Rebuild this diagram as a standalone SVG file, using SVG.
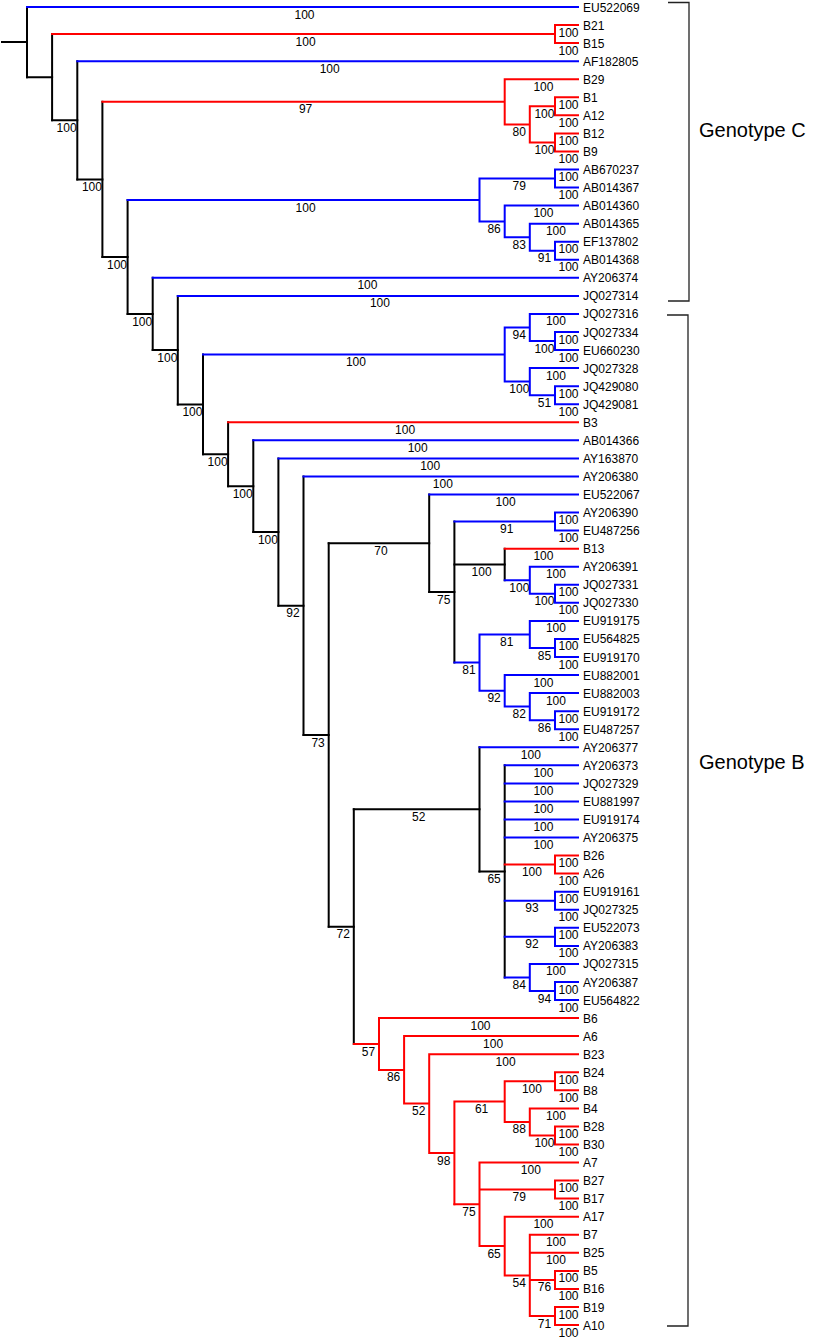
<svg xmlns="http://www.w3.org/2000/svg" width="814" height="1339" viewBox="0 0 814 1339">
<style>
.k{stroke:#000;stroke-width:2;fill:none;stroke-linecap:square}
.b{stroke:#0000ff;stroke-width:2;fill:none;stroke-linecap:square}
.r{stroke:#ff0000;stroke-width:2;fill:none;stroke-linecap:square}
text{font-family:"Liberation Sans",Arial,sans-serif;font-size:12px;fill:#000}
.s text{text-anchor:middle}
.br{stroke:#222;stroke-width:1.3;fill:none}
.gt{font-size:20px}
</style>
<rect width="814" height="1339" fill="#fff"/>
<g id="connectors">
<path class="k" d="M2 42.1H27M27 7V77.2M52.1 34.1V120.3M77.3 61.2V179.4M102.4 101.8V257M127.6 200V314M152.7 277.8V350.1M177.8 295.9V404.4M203 354.6V454.2M228.1 422.3V486.2M253.3 440.3V532M278.4 458.4V605.7M303.5 476.4V735M328.7 543.3V926.7M429.2 494.5V592.1M454.4 521.6V662.6M504.7 548.7V580.3M353.8 809.3V1044M479.5 747.3V871.4M504.7 765.3V977.5"/>
<path class="k" d="M27 77.2H52.1M52.1 120.3H77.3M77.3 179.4H102.4M102.4 257H127.6M127.6 314H152.7M152.7 350.1H177.8M177.8 404.4H203M203 454.2H228.1M228.1 486.2H253.3M253.3 532H278.4M278.4 605.7H303.5M303.5 735H328.7M328.7 543.3H429.2M328.7 926.7H353.8M429.2 592.1H454.4M454.4 564.5H504.7M353.8 809.3H479.5M479.5 871.4H504.7"/>
<path class="b" d="M27 7H578M77.3 61.2H578M127.6 200H479.5M479.5 178.5V221.4M479.5 178.5H555M555 169.5V187.6M555 169.5H578M555 187.6H578M479.5 221.4H504.7M504.7 205.6V237.2M504.7 205.6H578M504.7 237.2H529.8M529.8 223.7V250.7M529.8 223.7H578M529.8 250.7H555M555 241.7V259.8M555 241.7H578M555 259.8H578"/>
<path class="b" d="M152.7 277.8H578M177.8 295.9H578M203 354.6H504.7M504.7 327.5V381.6M504.7 327.5H529.8M529.8 313.9V341M529.8 313.9H578M529.8 341H555M555 332V350.1M555 332H578M555 350.1H578M504.7 381.6H529.8M529.8 368.1V395.2M529.8 368.1H578M529.8 395.2H555M555 386.2V404.2M555 386.2H578M555 404.2H578"/>
<path class="b" d="M253.3 440.3H578M278.4 458.4H578M303.5 476.4H578M429.2 494.5H578M454.4 521.6H555M555 512.5V530.6M555 512.5H578M555 530.6H578M504.7 580.3H529.8M529.8 566.7V593.8M529.8 566.7H578M529.8 593.8H555M555 584.8V602.8M555 584.8H578M555 602.8H578"/>
<path class="b" d="M454.4 662.6H479.5M479.5 634.4V690.8M479.5 634.4H529.8M529.8 620.9V648M529.8 620.9H578M529.8 648H555M555 638.9V657M555 638.9H578M555 657H578M479.5 690.8H504.7M504.7 675V706.6M504.7 675H578M504.7 706.6H529.8M529.8 693.1V720.2M529.8 693.1H578M529.8 720.2H555M555 711.2V729.2M555 711.2H578M555 729.2H578"/>
<path class="b" d="M479.5 747.3H578M504.7 765.3H578M504.7 783.4H578M504.7 801.4H578M504.7 819.5H578M504.7 837.5H578M504.7 900.7H555M555 891.7V909.8M555 891.7H578M555 909.8H578M504.7 936.8H555M555 927.8V945.9M555 927.8H578M555 945.9H578M504.7 977.5H529.8M529.8 963.9V991M529.8 963.9H578M529.8 991H555M555 982V1000M555 982H578M555 1000H578"/>
<path class="r" d="M52.1 34.1H555M555 25.1V43.1M555 25.1H578M555 43.1H578M102.4 101.8H504.7M504.7 79.2V124.4M504.7 79.2H578M504.7 124.4H529.8M529.8 106.3V142.4M529.8 106.3H555M555 97.3V115.3M555 97.3H578M555 115.3H578M529.8 142.4H555M555 133.4V151.4M555 133.4H578M555 151.4H578M228.1 422.3H578M504.7 548.7H578M504.7 864.6H555M555 855.6V873.6M555 855.6H578M555 873.6H578"/>
<path class="r" d="M353.8 1044H379M379 1018.1V1069.9M379 1018.1H578M379 1069.9H404.1M404.1 1036.1V1103.6M404.1 1036.1H578M404.1 1103.6H429.2M429.2 1054.2V1153M429.2 1054.2H578M429.2 1153H454.4M454.4 1101.6V1204.3M454.4 1101.6H504.7M504.7 1081.3V1121.9M504.7 1081.3H555M555 1072.3V1090.3M555 1072.3H578M555 1090.3H578M504.7 1121.9H529.8M529.8 1108.4V1135.4M529.8 1108.4H578M529.8 1135.4H555M555 1126.4V1144.5M555 1126.4H578M555 1144.5H578"/>
<path class="r" d="M454.4 1204.3H479.5M479.5 1162.5V1246M479.5 1162.5H578M479.5 1189.6H555M555 1180.6V1198.6M555 1180.6H578M555 1198.6H578M479.5 1246H504.7M504.7 1216.7V1275.4M504.7 1216.7H578M504.7 1275.4H529.8M529.8 1234.7V1316M529.8 1234.7H578M529.8 1252.8H578M529.8 1279.9H555M555 1270.9V1288.9M555 1270.9H578M555 1288.9H578M529.8 1316H555M555 1307V1325M555 1307H578M555 1325H578"/>
</g>
<g id="support-values" class="s">
<text x="304.5" y="18.5">100</text>
<text x="305.6" y="45.6">100</text>
<text x="66.6" y="131.8">100</text>
<text x="568.5" y="36.6">100</text>
<text x="568.5" y="54.6">100</text>
<text x="329.7" y="72.7">100</text>
<text x="91.9" y="190.9">100</text>
<text x="305.6" y="113.3">97</text>
<text x="117" y="268.5">100</text>
<text x="543.4" y="90.7">100</text>
<text x="519.3" y="135.9">80</text>
<text x="544.4" y="117.8">100</text>
<text x="544.4" y="153.9">100</text>
<text x="568.5" y="108.8">100</text>
<text x="568.5" y="126.8">100</text>
<text x="568.5" y="144.9">100</text>
<text x="568.5" y="162.9">100</text>
<text x="305.6" y="211.5">100</text>
<text x="142.2" y="325.5">100</text>
<text x="519.3" y="190">79</text>
<text x="494.1" y="232.9">86</text>
<text x="568.5" y="181">100</text>
<text x="568.5" y="199.1">100</text>
<text x="543.4" y="217.1">100</text>
<text x="519.3" y="248.7">83</text>
<text x="555.9" y="235.2">100</text>
<text x="544.4" y="262.2">91</text>
<text x="568.5" y="253.2">100</text>
<text x="568.5" y="271.3">100</text>
<text x="367.4" y="289.3">100</text>
<text x="167.3" y="361.6">100</text>
<text x="379.9" y="307.4">100</text>
<text x="192.4" y="415.9">100</text>
<text x="355.9" y="366.1">100</text>
<text x="217.6" y="465.7">100</text>
<text x="519.3" y="339">94</text>
<text x="519.3" y="393.1">100</text>
<text x="555.9" y="325.4">100</text>
<text x="544.4" y="352.5">100</text>
<text x="568.5" y="343.5">100</text>
<text x="568.5" y="361.6">100</text>
<text x="555.9" y="379.6">100</text>
<text x="544.4" y="406.7">51</text>
<text x="568.5" y="397.7">100</text>
<text x="568.5" y="415.7">100</text>
<text x="405.1" y="433.8">100</text>
<text x="242.7" y="497.7">100</text>
<text x="417.7" y="451.8">100</text>
<text x="267.9" y="543.5">100</text>
<text x="430.2" y="469.9">100</text>
<text x="293" y="617.2">92</text>
<text x="442.8" y="487.9">100</text>
<text x="318.1" y="746.5">73</text>
<text x="381" y="554.8">70</text>
<text x="343.3" y="938.2">72</text>
<text x="505.6" y="506">100</text>
<text x="443.8" y="603.6">75</text>
<text x="506.7" y="533.1">91</text>
<text x="481.6" y="576">100</text>
<text x="469" y="674.1">81</text>
<text x="568.5" y="524">100</text>
<text x="568.5" y="542.1">100</text>
<text x="543.4" y="560.2">100</text>
<text x="519.3" y="591.8">100</text>
<text x="555.9" y="578.2">100</text>
<text x="544.4" y="605.3">100</text>
<text x="568.5" y="596.3">100</text>
<text x="568.5" y="614.3">100</text>
<text x="506.7" y="645.9">81</text>
<text x="494.1" y="702.3">92</text>
<text x="555.9" y="632.4">100</text>
<text x="544.4" y="659.5">85</text>
<text x="568.5" y="650.4">100</text>
<text x="568.5" y="668.5">100</text>
<text x="543.4" y="686.5">100</text>
<text x="519.3" y="718.1">82</text>
<text x="555.9" y="704.6">100</text>
<text x="544.4" y="731.7">86</text>
<text x="568.5" y="722.7">100</text>
<text x="568.5" y="740.7">100</text>
<text x="418.7" y="820.8">52</text>
<text x="368.4" y="1055.5">57</text>
<text x="530.8" y="758.8">100</text>
<text x="494.1" y="882.9">65</text>
<text x="543.4" y="776.8">100</text>
<text x="543.4" y="794.9">100</text>
<text x="543.4" y="812.9">100</text>
<text x="543.4" y="831">100</text>
<text x="543.4" y="849">100</text>
<text x="531.9" y="876.1">100</text>
<text x="531.9" y="912.2">93</text>
<text x="531.9" y="948.3">92</text>
<text x="519.3" y="989">84</text>
<text x="568.5" y="867.1">100</text>
<text x="568.5" y="885.1">100</text>
<text x="568.5" y="903.2">100</text>
<text x="568.5" y="921.3">100</text>
<text x="568.5" y="939.3">100</text>
<text x="568.5" y="957.4">100</text>
<text x="555.9" y="975.4">100</text>
<text x="544.4" y="1002.5">94</text>
<text x="568.5" y="993.5">100</text>
<text x="568.5" y="1011.5">100</text>
<text x="480.5" y="1029.6">100</text>
<text x="393.6" y="1081.4">86</text>
<text x="493.1" y="1047.6">100</text>
<text x="418.7" y="1115.1">52</text>
<text x="505.6" y="1065.7">100</text>
<text x="443.8" y="1164.5">98</text>
<text x="481.6" y="1113.1">61</text>
<text x="469" y="1215.8">75</text>
<text x="531.9" y="1092.8">100</text>
<text x="519.3" y="1133.4">88</text>
<text x="568.5" y="1083.8">100</text>
<text x="568.5" y="1101.8">100</text>
<text x="555.9" y="1119.9">100</text>
<text x="544.4" y="1146.9">100</text>
<text x="568.5" y="1137.9">100</text>
<text x="568.5" y="1156">100</text>
<text x="530.8" y="1174">100</text>
<text x="519.3" y="1201.1">79</text>
<text x="494.1" y="1257.5">65</text>
<text x="568.5" y="1192.1">100</text>
<text x="568.5" y="1210.1">100</text>
<text x="543.4" y="1228.2">100</text>
<text x="519.3" y="1286.9">54</text>
<text x="555.9" y="1246.2">100</text>
<text x="555.9" y="1264.3">100</text>
<text x="544.4" y="1291.4">76</text>
<text x="544.4" y="1327.5">71</text>
<text x="568.5" y="1282.4">100</text>
<text x="568.5" y="1300.4">100</text>
<text x="568.5" y="1318.5">100</text>
<text x="568.5" y="1336.5">100</text>
</g>
<g id="leaf-EU522069"><text x="583" y="11.5">EU522069</text></g>
<g id="leaf-B21"><text x="583" y="29.6">B21</text></g>
<g id="leaf-B15"><text x="583" y="47.6">B15</text></g>
<g id="leaf-AF182805"><text x="583" y="65.7">AF182805</text></g>
<g id="leaf-B29"><text x="583" y="83.7">B29</text></g>
<g id="leaf-B1"><text x="583" y="101.8">B1</text></g>
<g id="leaf-A12"><text x="583" y="119.8">A12</text></g>
<g id="leaf-B12"><text x="583" y="137.9">B12</text></g>
<g id="leaf-B9"><text x="583" y="155.9">B9</text></g>
<g id="leaf-AB670237"><text x="583" y="174">AB670237</text></g>
<g id="leaf-AB014367"><text x="583" y="192.1">AB014367</text></g>
<g id="leaf-AB014360"><text x="583" y="210.1">AB014360</text></g>
<g id="leaf-AB014365"><text x="583" y="228.2">AB014365</text></g>
<g id="leaf-EF137802"><text x="583" y="246.2">EF137802</text></g>
<g id="leaf-AB014368"><text x="583" y="264.3">AB014368</text></g>
<g id="leaf-AY206374"><text x="583" y="282.3">AY206374</text></g>
<g id="leaf-JQ027314"><text x="583" y="300.4">JQ027314</text></g>
<g id="leaf-JQ027316"><text x="583" y="318.4">JQ027316</text></g>
<g id="leaf-JQ027334"><text x="583" y="336.5">JQ027334</text></g>
<g id="leaf-EU660230"><text x="583" y="354.5">EU660230</text></g>
<g id="leaf-JQ027328"><text x="583" y="372.6">JQ027328</text></g>
<g id="leaf-JQ429080"><text x="583" y="390.7">JQ429080</text></g>
<g id="leaf-JQ429081"><text x="583" y="408.7">JQ429081</text></g>
<g id="leaf-B3"><text x="583" y="426.8">B3</text></g>
<g id="leaf-AB014366"><text x="583" y="444.8">AB014366</text></g>
<g id="leaf-AY163870"><text x="583" y="462.9">AY163870</text></g>
<g id="leaf-AY206380"><text x="583" y="480.9">AY206380</text></g>
<g id="leaf-EU522067"><text x="583" y="499">EU522067</text></g>
<g id="leaf-AY206390"><text x="583" y="517">AY206390</text></g>
<g id="leaf-EU487256"><text x="583" y="535.1">EU487256</text></g>
<g id="leaf-B13"><text x="583" y="553.2">B13</text></g>
<g id="leaf-AY206391"><text x="583" y="571.2">AY206391</text></g>
<g id="leaf-JQ027331"><text x="583" y="589.3">JQ027331</text></g>
<g id="leaf-JQ027330"><text x="583" y="607.3">JQ027330</text></g>
<g id="leaf-EU919175"><text x="583" y="625.4">EU919175</text></g>
<g id="leaf-EU564825"><text x="583" y="643.4">EU564825</text></g>
<g id="leaf-EU919170"><text x="583" y="661.5">EU919170</text></g>
<g id="leaf-EU882001"><text x="583" y="679.5">EU882001</text></g>
<g id="leaf-EU882003"><text x="583" y="697.6">EU882003</text></g>
<g id="leaf-EU919172"><text x="583" y="715.6">EU919172</text></g>
<g id="leaf-EU487257"><text x="583" y="733.7">EU487257</text></g>
<g id="leaf-AY206377"><text x="583" y="751.8">AY206377</text></g>
<g id="leaf-AY206373"><text x="583" y="769.8">AY206373</text></g>
<g id="leaf-JQ027329"><text x="583" y="787.9">JQ027329</text></g>
<g id="leaf-EU881997"><text x="583" y="805.9">EU881997</text></g>
<g id="leaf-EU919174"><text x="583" y="824">EU919174</text></g>
<g id="leaf-AY206375"><text x="583" y="842">AY206375</text></g>
<g id="leaf-B26"><text x="583" y="860.1">B26</text></g>
<g id="leaf-A26"><text x="583" y="878.1">A26</text></g>
<g id="leaf-EU919161"><text x="583" y="896.2">EU919161</text></g>
<g id="leaf-JQ027325"><text x="583" y="914.3">JQ027325</text></g>
<g id="leaf-EU522073"><text x="583" y="932.3">EU522073</text></g>
<g id="leaf-AY206383"><text x="583" y="950.4">AY206383</text></g>
<g id="leaf-JQ027315"><text x="583" y="968.4">JQ027315</text></g>
<g id="leaf-AY206387"><text x="583" y="986.5">AY206387</text></g>
<g id="leaf-EU564822"><text x="583" y="1004.5">EU564822</text></g>
<g id="leaf-B6"><text x="583" y="1022.6">B6</text></g>
<g id="leaf-A6"><text x="583" y="1040.6">A6</text></g>
<g id="leaf-B23"><text x="583" y="1058.7">B23</text></g>
<g id="leaf-B24"><text x="583" y="1076.8">B24</text></g>
<g id="leaf-B8"><text x="583" y="1094.8">B8</text></g>
<g id="leaf-B4"><text x="583" y="1112.9">B4</text></g>
<g id="leaf-B28"><text x="583" y="1130.9">B28</text></g>
<g id="leaf-B30"><text x="583" y="1149">B30</text></g>
<g id="leaf-A7"><text x="583" y="1167">A7</text></g>
<g id="leaf-B27"><text x="583" y="1185.1">B27</text></g>
<g id="leaf-B17"><text x="583" y="1203.1">B17</text></g>
<g id="leaf-A17"><text x="583" y="1221.2">A17</text></g>
<g id="leaf-B7"><text x="583" y="1239.2">B7</text></g>
<g id="leaf-B25"><text x="583" y="1257.3">B25</text></g>
<g id="leaf-B5"><text x="583" y="1275.4">B5</text></g>
<g id="leaf-B16"><text x="583" y="1293.4">B16</text></g>
<g id="leaf-B19"><text x="583" y="1311.5">B19</text></g>
<g id="leaf-A10"><text x="583" y="1329.5">A10</text></g>
<g id="genotype-C">
<path class="br" d="M668 2.5H689V301H668"/>
<text class="gt" x="699" y="137">Genotype C</text>
</g>
<g id="genotype-B">
<path class="br" d="M667 315H688V1326H667"/>
<text class="gt" x="699" y="769">Genotype B</text>
</g>
</svg>
